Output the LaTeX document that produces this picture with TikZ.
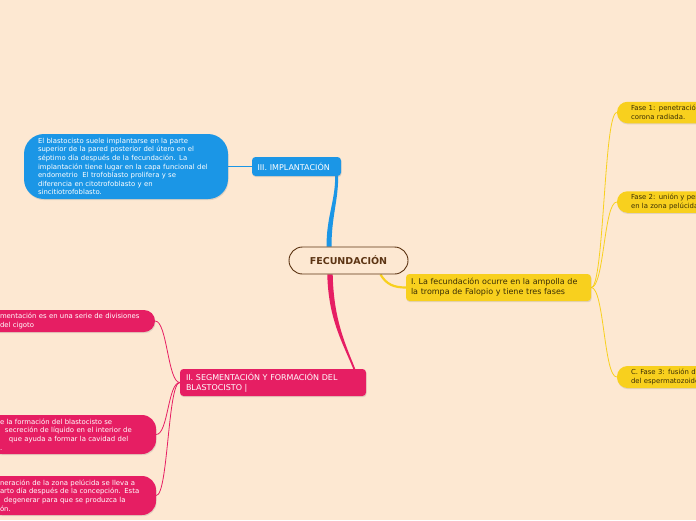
\documentclass[tikz,border=0pt]{standalone}
\usepackage{fontspec}
\setmainfont{DejaVu Sans}
\usetikzlibrary{shadows,backgrounds}
\definecolor{bgpeach}{HTML}{FDE8D2}
\definecolor{mapblue}{HTML}{1B96E6}
\definecolor{mappink}{HTML}{E61E63}
\definecolor{mapyellow}{HTML}{F8D01E}
\definecolor{darkbrown}{HTML}{5C3413}
\definecolor{yellowtext}{HTML}{3A2E05}

\begin{document}
\begin{tikzpicture}[x=1pt,y=-1pt,
  topic/.style={fill=#1, rounded corners=3.5, inner ysep=0pt, align=left,
    font=\fontsize{8}{9.8}\selectfont,
    drop shadow={opacity=.22,shadow xshift=.6pt,shadow yshift=-1.2pt}},
  leaf/.style={fill=#1, inner ysep=0pt, align=left,
    font=\fontsize{6.9}{8.6}\selectfont,
    drop shadow={opacity=.22,shadow xshift=.6pt,shadow yshift=-1.2pt}},
  thin/.style={line width=.8pt}]
\useasboundingbox (0,0) rectangle (696,520);
\clip (0,0) rectangle (696,520);

% central node
\node[draw=darkbrown, line width=.9pt, fill=bgpeach, rounded corners=13.5,
  minimum width=119, minimum height=27, inner sep=0pt, text=darkbrown,
  font=\bfseries\fontsize{9.5}{11}\selectfont] (fec) at (348.5,260.5) {FECUNDACIÓN};

% III. implantacion
\node[topic=mapblue, text=white, minimum width=89, minimum height=19,
  inner xsep=5.5pt, text width=78] (impl) at (296.5,166.5) {III. IMPLANTACIÓN};
\node[leaf=mapblue, text=white, rounded corners=20, minimum width=204,
  minimum height=65, inner xsep=14pt, text width=176] (implA) at (126,166.5)
  {El blastocisto suele implantarse en la parte\\
   superior de la pared posterior del útero en el\\
   séptimo día después de la fecundación. La\\
   implantación tiene lugar en la capa funcional del\\
   endometrio\ \ El trofoblasto prolifera y se\\
   diferencia en citotrofoblasto y en\\
   sincitiotrofoblasto.};

% II. segmentacion
\node[topic=mappink, text=white, minimum width=186, minimum height=27,
  inner xsep=6pt, text width=174] (seg) at (273,382.5)
  {II. SEGMENTACIÓN Y FORMACIÓN DEL\\ BLASTOCISTO |};
\node[leaf=mappink, text=white, rounded corners=11, minimum width=167,
  minimum height=22, inner xsep=12pt, text width=143] (segA) at (71.5,321)
  {mentación es en una serie de divisiones\\ del cigoto};
\node[leaf=mappink, text=white, rounded corners=14, minimum width=168,
  minimum height=39, inner xsep=12pt, text width=144] (segB) at (72,434.5)
  {e la formación del blastocisto se\\
   \hspace*{5pt}secreción de líquido en el interior de\\
   \hspace*{9pt}que ayuda a formar la cavidad del\\
   .};
\node[leaf=mappink, text=white, rounded corners=14, minimum width=168,
  minimum height=39, inner xsep=12pt, text width=144] (segC) at (72,495.5)
  {neración de la zona pelúcida se lleva a\\
   arto día después de la concepción. Esta\\
   \hspace*{4pt}degenerar para que se produzca la\\
   ón.};

% I. fecundacion
\node[topic=mapyellow, text=yellowtext, minimum width=185, minimum height=27,
  inner xsep=5pt, text width=175] (fase) at (498.5,287.5)
  {I. La fecundación ocurre en la ampolla de\\ la trompa de Falopio y tiene tres fases};
\node[leaf=mapyellow, text=yellowtext, rounded corners=10.5, minimum width=160,
  minimum height=21.5, inner xsep=14pt, text width=132] (faseA) at (697,112.5)
  {Fase 1: penetración\\ corona radiada.};
\node[leaf=mapyellow, text=yellowtext, rounded corners=10.5, minimum width=160,
  minimum height=21.5, inner xsep=14pt, text width=132] (faseB) at (697,202)
  {Fase 2: unión y penetración\\ en la zona pelúcida};
\node[leaf=mapyellow, text=yellowtext, rounded corners=10.5, minimum width=160,
  minimum height=22, inner xsep=14pt, text width=132] (faseC) at (697,377)
  {C. Fase 3: fusión de\\ del espermatozoide};

\begin{pgfonlayer}{background}
\fill[bgpeach] (0,0) rectangle (696,520);

% main branches
\coordinate (fecB) at ([xshift=-19.5pt]fec.north);
\coordinate (implB) at ([xshift=-4.5pt]impl.south east);
\fill[mapblue] ([xshift=-2.5pt]fecB) .. controls +(0,-30) and +(0,25) .. ([xshift=-1.5pt]implB)
  -- ([xshift=1.5pt]implB) .. controls +(0,25) and +(0,-30) .. ([xshift=2.5pt]fecB) -- cycle;

\coordinate (fecP) at ([xshift=-18.5pt]fec.south);
\coordinate (segP) at ([xshift=-12pt]seg.north east);
\fill[mappink] ([xshift=-2.7pt]fecP) .. controls +(1,45) and +(-10,-25) .. ([xshift=-1pt]segP)
  -- ([xshift=1pt]segP) .. controls +(-10,-25) and +(1,45) .. ([xshift=2.7pt]fecP) -- cycle;

\coordinate (fecY) at ([xshift=-28pt]fec.south east);
\draw[mapyellow, line width=2.2pt] (fecY) .. controls +(6,10) and +(-12,0) .. (fase.west);

% sub branches
\draw[mapblue, thin] (implA.east) -- (impl.west);
\foreach \leafname in {segA,segB,segC}
  \draw[mappink, thin] (seg.west) .. controls +(-12,0) and +(12,0) .. (\leafname.east);
\foreach \leafname in {faseA,faseB,faseC}
  \draw[mapyellow, thin] (fase.east) .. controls +(13,0) and +(-13,0) .. (\leafname.west);
\end{pgfonlayer}
\end{tikzpicture}
\end{document}
